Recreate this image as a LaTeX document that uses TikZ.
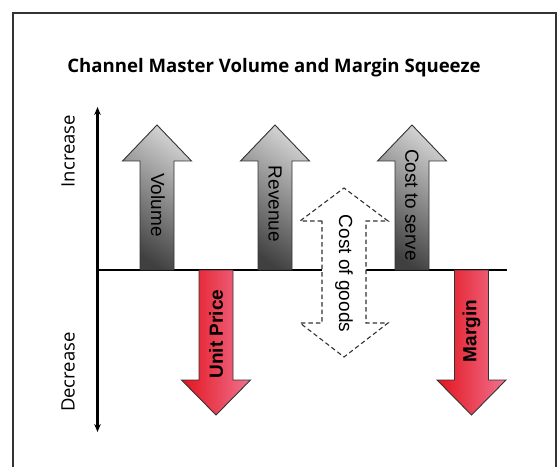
\documentclass[tikz,border=0pt]{standalone}
\usepackage{fontspec}
\usetikzlibrary{arrows.meta}
\newfontfamily\arialf{Liberation Sans}
\newfontfamily\osans{Open Sans}
\definecolor{framec}{HTML}{333333}
\definecolor{gdark}{HTML}{404040}
\definecolor{glight}{HTML}{D0D0D0}
\definecolor{rdark}{HTML}{E3141E}
\definecolor{rlight}{HTML}{F0728F}
\tikzset{
  grayarrow/.style={draw=black!80, line width=0.9bp, top color=glight, bottom color=gdark, shading angle=-35},
  redarrow/.style={draw=black!80, line width=0.9bp, left color=rdark, right color=rlight, shading angle=90},
  dasharrow/.style={draw=black!80, fill=white, line width=1.1bp, dash pattern=on 4.5bp off 3bp},
  arrlabel/.style={font=\arialf\fontsize{19bp}{22bp}\selectfont, inner sep=0pt},
  arrlabelb/.style={font=\arialf\bfseries\fontsize{19bp}{22bp}\selectfont, inner sep=0pt},
  sidelabel/.style={font=\osans\fontsize{18.5bp}{22bp}\selectfont, inner sep=0pt, rotate=90},
  axisline/.style={line width=2.4bp, black},
}
% up arrow: centre x
\newcommand\grayuparrow[1]{%
  \path[grayarrow] (#1-17,270) -- (#1-17,161) -- (#1-34.5,161) -- (#1,125) -- (#1+34.5,161) -- (#1+17,161) -- (#1+17,270) -- cycle;}
\newcommand\reddownarrow[1]{%
  \path[redarrow] (#1-17,270) -- (#1-17,380) -- (#1-34.5,380) -- (#1,415) -- (#1+34.5,380) -- (#1+17,380) -- (#1+17,270) -- cycle;}
\begin{document}
\begin{tikzpicture}[x=1bp,y=-1bp]
\useasboundingbox (0,0) rectangle (558,467);
% frame
\draw[framec, line width=2.2bp] (13,467) -- (13,13) -- (556,13) -- (556,467);
% title
\node[anchor=base, font=\osans\bfseries\fontsize{18.6bp}{22bp}\selectfont, inner sep=0pt] (title) at (274,73) {Channel Master Volume and Margin Squeeze};
% axes
\coordinate (axtop) at (97.5,107);
\coordinate (axbot) at (97.5,432);
\coordinate (blL) at (97.5,270);
\coordinate (blR) at (507,270);
\draw[axisline, {Stealth[length=8bp,width=6.5bp]}-{Stealth[length=8bp,width=6.5bp]}] (axbot) -- (axtop);
\draw[axisline] (blL) -- (blR);
\node[sidelabel] (inc) at (68,151) {Increase};
\node[sidelabel] (dec) at (68,372) {Decrease};
% gray arrows
\grayuparrow{157}
\grayuparrow{275}
\grayuparrow{412}
% red arrows
\reddownarrow{216}
\reddownarrow{471.5}
% cost of goods (dashed, double)
\path[dasharrow] (322,221) -- (300,221) -- (344,188) -- (388,221) -- (366,221) -- (366,323) -- (388,323) -- (344,357) -- (300,323) -- (322,323) -- cycle;
% labels
\node[arrlabel, rotate=-90] (vol) at (158,205) {Volume};
\node[arrlabel, rotate=-90] (rev) at (275,204) {Revenue};
\node[arrlabel, rotate=-90] (cts) at (412,205) {Cost to serve};
\node[arrlabel, rotate=-90] (cog) at (344,273.5) {Cost of goods};
\node[arrlabelb, rotate=90] (up) at (216,334) {Unit Price};
\node[arrlabelb, rotate=90] (mar) at (471.5,331) {Margin};
\end{tikzpicture}
\end{document}
